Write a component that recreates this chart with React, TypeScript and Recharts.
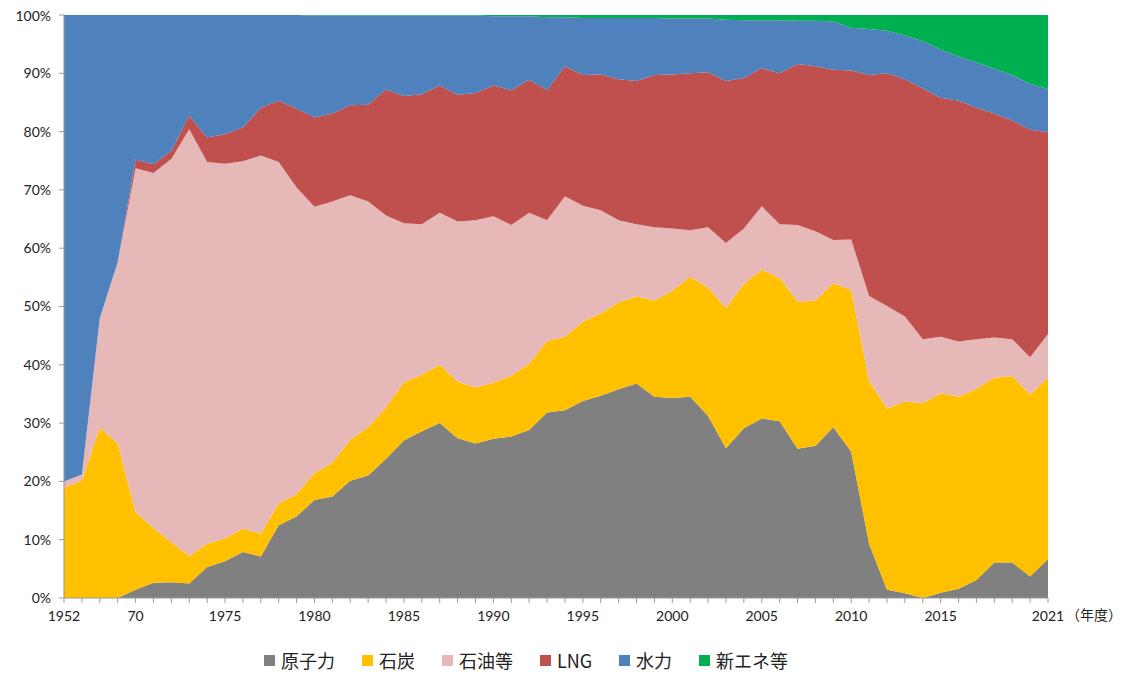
import { AreaChart, Area, XAxis, YAxis, Legend } from 'recharts';

const years = [
  '1952', '1955', '1960', '1965',
  '1970', '1971', '1972', '1973', '1974', '1975', '1976', '1977', '1978', '1979',
  '1980', '1981', '1982', '1983', '1984', '1985', '1986', '1987', '1988', '1989',
  '1990', '1991', '1992', '1993', '1994', '1995', '1996', '1997', '1998', '1999',
  '2000', '2001', '2002', '2003', '2004', '2005', '2006', '2007', '2008', '2009',
  '2010', '2011', '2012', '2013', '2014', '2015', '2016', '2017', '2018', '2019', '2020', '2021',
];

const tickLabels: Record<string, string> = {
  '1952': '1952', '1970': '70', '1975': '1975', '1980': '1980', '1985': '1985', '1990': '1990',
  '1995': '1995', '2000': '2000', '2005': '2005', '2010': '2010', '2015': '2015', '2021': '2021',
};

// 電源別発電電力量の構成比 (%)
const nuclear = [0, 0, 0, 0,
  1.4, 2.6, 2.7, 2.5, 5.3, 6.3, 7.9, 7.1, 12.5, 14.0,
  16.8, 17.4, 20.1, 21.0, 23.9, 27.0, 28.6, 30.0, 27.4, 26.5,
  27.3, 27.7, 28.8, 31.8, 32.2, 33.8, 34.7, 35.8, 36.8, 34.5,
  34.3, 34.5, 31.2, 25.7, 29.1, 30.8, 30.3, 25.6, 26.1, 29.3,
  25.1, 9.3, 1.4, 0.8, 0, 0.9, 1.6, 3.1, 6.1, 6.1, 3.7, 6.7];
const coal = [18.9, 20.1, 29.2, 26.5,
  13.3, 9.4, 6.8, 4.7, 4.0, 3.9, 4.0, 3.9, 3.7, 3.8,
  4.6, 5.8, 7.0, 8.3, 8.8, 10.0, 9.7, 10.0, 9.7, 9.6,
  9.6, 10.4, 11.4, 12.3, 12.6, 13.6, 14.1, 14.9, 14.9, 16.5,
  18.4, 20.6, 22.0, 24.0, 24.8, 25.5, 24.6, 25.2, 24.9, 24.7,
  27.7, 27.9, 31.1, 32.9, 33.4, 34.2, 32.9, 32.8, 31.7, 32.0, 31.2, 31.1];
const oil = [1.1, 1.1, 18.8, 31.1,
  59.0, 60.9, 65.8, 73.2, 65.5, 64.3, 63.0, 64.9, 58.6, 52.6,
  45.7, 44.8, 42.0, 38.7, 32.9, 27.3, 25.8, 26.1, 27.5, 28.7,
  28.6, 25.9, 25.9, 20.7, 24.1, 19.9, 17.7, 14.1, 12.4, 12.6,
  10.7, 8.0, 10.4, 11.2, 9.5, 10.9, 9.2, 13.2, 11.9, 7.4,
  8.7, 14.6, 17.6, 14.6, 11.0, 9.7, 9.5, 8.5, 6.9, 6.3, 6.4, 7.5];
const lng = [0, 0, 0, 0,
  1.5, 1.5, 1.4, 2.3, 4.2, 5.1, 5.8, 8.2, 10.5, 13.5,
  15.3, 15.1, 15.4, 16.6, 21.6, 21.8, 22.3, 21.8, 21.7, 21.8,
  22.4, 23.1, 22.8, 22.3, 22.3, 22.4, 23.3, 24.2, 24.6, 26.1,
  26.4, 26.9, 26.6, 27.8, 25.8, 23.7, 25.9, 27.6, 28.3, 29.2,
  29.0, 37.9, 39.9, 40.7, 43.0, 41.0, 41.3, 39.7, 38.4, 37.5, 39.0, 34.6];
const hydro = [80.0, 78.8, 52.0, 42.4,
  24.8, 25.6, 23.3, 17.3, 21.0, 20.4, 19.3, 15.9, 14.7, 16.1,
  17.5, 16.8, 15.4, 15.3, 12.7, 13.8, 13.5, 12.0, 13.6, 13.3,
  11.9, 12.7, 10.9, 12.5, 8.4, 9.8, 9.7, 10.5, 10.8, 9.8,
  9.6, 9.4, 9.2, 10.5, 9.9, 8.2, 9.1, 7.4, 7.8, 8.3,
  7.3, 7.9, 7.3, 7.5, 8.1, 8.3, 7.6, 7.8, 7.7, 7.8, 7.9, 7.4];
const newEnergy = [0, 0, 0, 0,
  0, 0, 0, 0, 0, 0, 0, 0, 0, 0,
  0.1, 0.1, 0.1, 0.1, 0.1, 0.1, 0.1, 0.1, 0.1, 0.1,
  0.2, 0.2, 0.2, 0.4, 0.4, 0.5, 0.5, 0.5, 0.5, 0.5,
  0.6, 0.6, 0.6, 0.8, 0.9, 0.9, 0.9, 1.0, 1.0, 1.1,
  2.2, 2.4, 2.7, 3.5, 4.5, 5.9, 7.1, 8.1, 9.2, 10.3, 11.8, 12.7];

const series = [
  { key: 'nuclear', name: '原子力', color: '#808080' },
  { key: 'coal', name: '石炭', color: '#FFC000' },
  { key: 'oil', name: '石油等', color: '#E6B9B8' },
  { key: 'lng', name: 'LNG', color: '#C0504D' },
  { key: 'hydro', name: '水力', color: '#4F81BD' },
  { key: 'newEnergy', name: '新エネ等', color: '#00B050' },
];

const data = years.map((year, i) => ({
  year,
  nuclear: nuclear[i],
  coal: coal[i],
  oil: oil[i],
  lng: lng[i],
  hydro: hydro[i],
  newEnergy: newEnergy[i],
}));

const axisFont = { fontFamily: 'Lato, "Noto Sans", sans-serif', fontSize: 14, fill: '#222' };

function LegendBox() {
  return (
    <div style={{ height: 47, boxSizing: 'border-box', paddingBottom: 4, paddingRight: 10, display: 'flex', alignItems: 'flex-end', justifyContent: 'center', gap: 27 }}>
      {series.map((s) => (
        <div key={s.key} style={{ display: 'flex', alignItems: 'center', gap: 6 }}>
          <span style={{ width: 11, height: 11, background: s.color, display: 'inline-block' }} />
          <span style={{ fontFamily: '"Noto Sans CJK JP", sans-serif', fontSize: 18, lineHeight: '22px', color: '#222' }}>{s.name}</span>
        </div>
      ))}
    </div>
  );
}

function UnitLabel(props: any) {
  const { viewBox } = props;
  return (
    <text x={viewBox.x + viewBox.width + 18} y={viewBox.y + 22}
      fontFamily='"Noto Sans CJK JP", sans-serif' fontSize={14} fill="#222">
      （年度）
    </text>
  );
}

export default function App() {
  return (
    <div style={{ width: 1115, height: 667 }}>
      <AreaChart width={1115} height={667} data={data} stackOffset="expand"
        margin={{ top: 7, right: 75, left: 6, bottom: 0 }} style={{ overflow: 'visible' }}>
        <XAxis dataKey="year" interval={0} tickFormatter={(v) => tickLabels[v] ?? ''}
          tick={axisFont} tickLine={{ stroke: '#999' }} axisLine={{ stroke: '#999' }}
          tickSize={5} tickMargin={8} height={30} label={<UnitLabel />} />
        <YAxis domain={[0, 1]} ticks={[0, 0.1, 0.2, 0.3, 0.4, 0.5, 0.6, 0.7, 0.8, 0.9, 1]}
          tickFormatter={(v) => `${Math.round(v * 100)}%`} width={50}
          tick={axisFont} tickLine={{ stroke: '#999' }} axisLine={{ stroke: '#999' }}
          tickSize={5} tickMargin={8} />
        <Legend content={<LegendBox />} verticalAlign="bottom" />
        {series.map((s) => (
          <Area key={s.key} dataKey={s.key} name={s.name} stackId="1" type="linear"
            fill={s.color} fillOpacity={1} stroke="none" dot={false} activeDot={false}
            isAnimationActive={false} />
        ))}
      </AreaChart>
    </div>
  );
}
